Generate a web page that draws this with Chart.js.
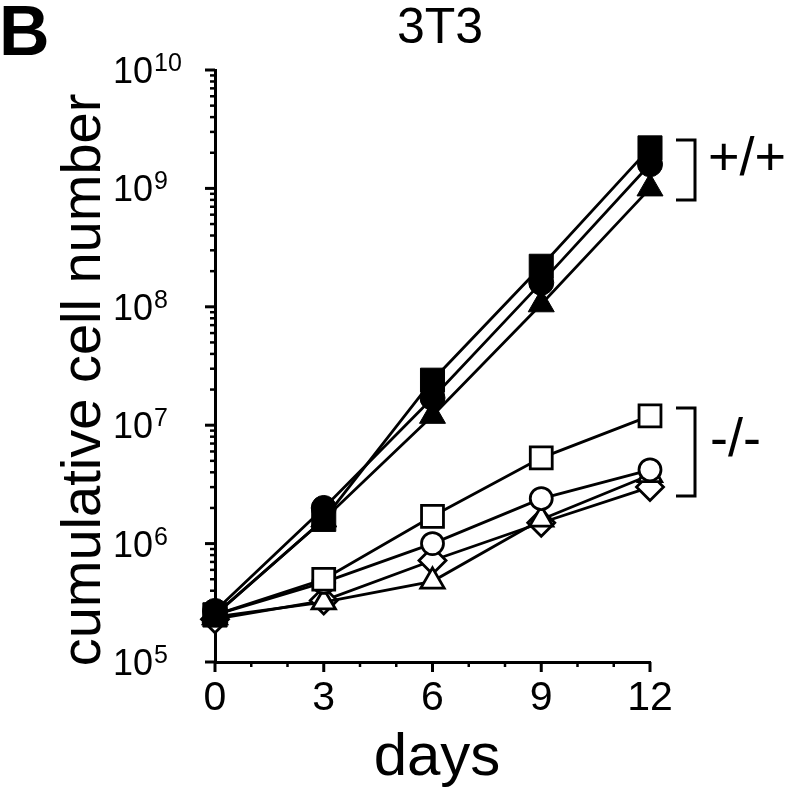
<!DOCTYPE html>
<html>
<head>
<meta charset="utf-8">
<script src="https://cdn.jsdelivr.net/npm/chart.js@4"></script>
<style>
  html, body { margin: 0; padding: 0; background: #fff; }
</style>
</head>
<body>
<canvas id="growthChart" width="800" height="793"></canvas>
<script>
const FONT = "'Liberation Sans', Arial, Helvetica, sans-serif"

const days = [0, 3, 6, 9, 12]
const yDecades = [5, 6, 7, 8, 9, 10]

// +/+ cultures (filled symbols)
const wtSquare = [2.5e5, 1.6e6, 2.4e7, 2.2e8, 2.2e9]
const wtCircle = [2.7e5, 2.0e6, 1.7e7, 1.6e8, 1.6e9]
const wtTriangle = [2.5e5, 1.6e6, 1.2e7, 1.05e8, 1.0e9]

// -/- cultures (open symbols)
const koSquare = [2.5e5, 5.0e5, 1.7e6, 5.3e6, 1.2e7]
const koCircle = [2.5e5, 4.7e5, 1.0e6, 2.4e6, 4.2e6]
const koTriangle = [2.4e5, 3.2e5, 4.8e5, 1.6e6, 3.8e6]
const koDiamond = [2.3e5, 3.3e5, 7.2e5, 1.5e6, 3.0e6]

function series(values, style, radius, filled) {
  return {
    data: values.map((v, i) => ({ x: days[i], y: v })),
    borderColor: "#000",
    borderWidth: 2.8,
    pointStyle: style,
    pointRadius: radius,
    pointBackgroundColor: filled ? "#000" : "#fff",
    pointBorderColor: "#000",
    pointBorderWidth: filled ? 1 : 2.8,
    tension: 0,
    clip: false,
  }
}

// ticks, superscript labels and the annotation text
const paperAxes = {
  id: "paperAxes",
  beforeDatasetsDraw(chart) {
    const { ctx, chartArea, scales } = chart
    const x = scales.x
    const y = scales.y
    ctx.save()
    ctx.strokeStyle = "#000"
    ctx.lineCap = "butt"

    // y: major + minor log ticks
    yDecades.forEach((n) => {
      const steps = n === 10 ? [1] : [1, 2, 3, 4, 5, 6, 7, 8, 9]
      steps.forEach((m) => {
        const py = y.getPixelForValue(m * Math.pow(10, n))
        const len = m === 1 ? 10 : 5
        ctx.lineWidth = m === 1 ? 3 : 2.5
        ctx.beginPath()
        ctx.moveTo(chartArea.left, py)
        ctx.lineTo(chartArea.left - len, py)
        ctx.stroke()
      })
    })

    // x: a tick every day, longer every 3 days
    for (let d = 0; d <= 12; d++) {
      const px = x.getPixelForValue(d)
      const len = d % 3 === 0 ? 10 : 5
      ctx.lineWidth = d % 3 === 0 ? 3 : 2.5
      ctx.beginPath()
      ctx.moveTo(px, chartArea.bottom)
      ctx.lineTo(px, chartArea.bottom + len)
      ctx.stroke()
    }
    ctx.restore()
  },
  afterDraw(chart) {
    const { ctx, scales } = chart
    const y = scales.y
    ctx.save()
    ctx.fillStyle = "#000"
    ctx.textBaseline = "alphabetic"

    // y tick labels 10^n
    yDecades.forEach((n) => {
      const py = y.getPixelForValue(Math.pow(10, n))
      ctx.font = "36px " + FONT
      ctx.textAlign = "left"
      ctx.fillText("10", 113, py + 13)
      const w = ctx.measureText("10").width
      ctx.font = "25px " + FONT
      ctx.fillText(String(n), 113 + w + 1, py + 1)
    })

    // panel letter and title
    ctx.font = "bold 70px " + FONT
    ctx.fillText("B", -1, 55)
    ctx.font = "50px " + FONT
    ctx.textAlign = "center"
    ctx.fillText("3T3", 440, 43)

    // axis titles
    ctx.font = "60px " + FONT
    ctx.fillText("days", 437, 775)
    ctx.save()
    ctx.translate(100, 380)
    ctx.rotate(-Math.PI / 2)
    ctx.font = "56px " + FONT
    ctx.fillText("cumulative cell number", 0, 0)
    ctx.restore()

    // genotype brackets
    ctx.lineWidth = 3
    ctx.strokeStyle = "#000"
    ctx.beginPath()
    ctx.moveTo(676, 140)
    ctx.lineTo(695, 140)
    ctx.lineTo(695, 200)
    ctx.lineTo(676, 200)
    ctx.moveTo(676, 408)
    ctx.lineTo(695, 408)
    ctx.lineTo(695, 496)
    ctx.lineTo(676, 496)
    ctx.stroke()

    ctx.textAlign = "left"
    ctx.font = "54px " + FONT
    ctx.fillText("+/+", 708, 175)
    ctx.fillText("-/-", 710, 456)
    ctx.restore()
  },
}

new Chart(document.getElementById("growthChart"), {
  type: "line",
  data: {
    datasets: [
      series(wtSquare, "rect", 17, true),
      series(wtCircle, "circle", 12.5, true),
      series(wtTriangle, "triangle", 15, true),
      series(koSquare, "rect", 15.5, false),
      series(koCircle, "circle", 11, false),
      series(koTriangle, "triangle", 13.5, false),
      series(koDiamond, "rectRot", 13.5, false),
    ],
  },
  options: {
    responsive: false,
    animation: false,
    layout: { padding: { left: 0, right: 150, top: 70, bottom: 0 } },
    plugins: {
      legend: { display: false },
      tooltip: { enabled: false },
    },
    scales: {
      x: {
        type: "linear",
        min: 0,
        max: 12,
        grid: { display: false, drawTicks: true, tickLength: 8 },
        border: { display: true, color: "#000", width: 3 },
        ticks: {
          stepSize: 3,
          color: "#000",
          padding: 4,
          maxRotation: 0,
          font: { family: FONT, size: 41 },
        },
        afterFit: (scale) => {
          scale.height = 131
        },
      },
      y: {
        type: "logarithmic",
        min: 1e5,
        max: 1e10,
        grid: { display: false },
        border: { display: true, color: "#000", width: 3 },
        ticks: { display: false },
        afterFit: (scale) => {
          scale.width = 215
        },
      },
    },
  },
  plugins: [paperAxes],
})
</script>
</body>
</html>
